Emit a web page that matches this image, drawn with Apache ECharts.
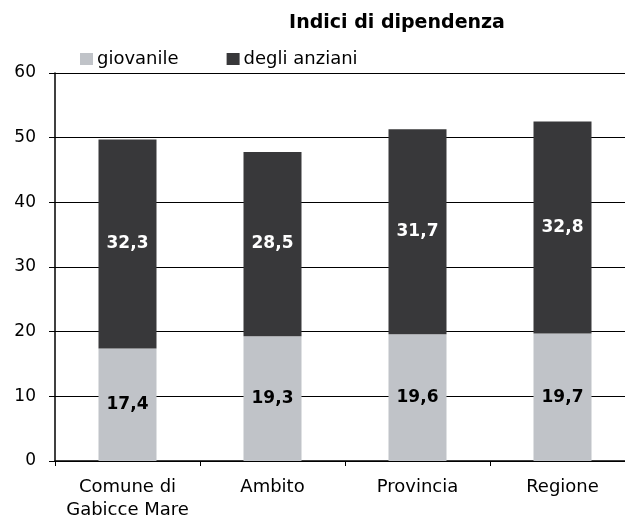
<!DOCTYPE html>
<html>
<head>
<meta charset="utf-8">
<script src="https://cdn.jsdelivr.net/npm/echarts@6/dist/echarts.min.js"></script>
<style>
  html, body { margin: 0; padding: 0; background: #fff; overflow: hidden; }
  /* plot runs a bit past the right edge in the original, so the div is wider than the window */
  #chart { width: 640px; height: 527px; }
</style>
</head>
<body>
<div id="chart"></div>
<script>
// Data
const categories = ['Comune di\nGabicce Mare', 'Ambito', 'Provincia', 'Regione'];
const giovanile = [17.4, 19.3, 19.6, 19.7];
const anziani = [32.3, 28.5, 31.7, 32.8];
const seriesNames = ['giovanile', 'degli anziani'];

const font = 'DejaVu Sans, sans-serif';
const fmt = p => p.value.toFixed(1).replace('.', ',');

const chart = echarts.init(document.getElementById('chart'));
chart.setOption({
    backgroundColor: '#fff',
    animation: false,
    title: {
        text: 'Indici di dipendenza',
        left: 392,
        textAlign: 'center',
        top: 9,
        textStyle: { fontFamily: font, fontSize: 19, fontWeight: 'bold', color: '#000' }
    },
    legend: {
        left: 75,
        top: 45,
        itemWidth: 13,
        itemHeight: 12,
        itemGap: 48,
        icon: 'rect',
        textStyle: { fontFamily: font, fontSize: 18, color: '#000', padding: [0, 0, 0, -1] },
        data: seriesNames
    },
    grid: { left: 55, top: 73, width: 580, bottom: 66 },
    xAxis: {
        type: 'category',
        data: categories,
        axisLine: { lineStyle: { color: '#000', width: 1.5 } },
        axisTick: { show: true, interval: 0, length: 5, lineStyle: { color: '#000' } },
        axisLabel: { interval: 0, fontFamily: font, fontSize: 18, color: '#000', lineHeight: 23, margin: 15 }
    },
    yAxis: {
        type: 'value',
        min: 0,
        max: 60,
        interval: 10,
        axisLine: { show: true, lineStyle: { color: '#000', width: 1.5 } },
        axisTick: { show: true, length: 6, lineStyle: { color: '#000' } },
        splitLine: { lineStyle: { color: '#000', width: 1 } },
        axisLabel: { fontFamily: font, fontSize: 17, color: '#000', margin: 19 }
    },
    series: [
        {
            name: seriesNames[0],
            type: 'bar',
            stack: 'tot',
            barWidth: 58,
            data: giovanile,
            itemStyle: { color: '#c0c3c8' },
            label: {
                show: true, position: 'inside', formatter: fmt,
                fontFamily: font, fontSize: 17, fontWeight: 'bold', color: '#000'
            }
        },
        {
            name: seriesNames[1],
            type: 'bar',
            stack: 'tot',
            barWidth: 58,
            data: anziani,
            itemStyle: { color: '#38383a' },
            label: {
                show: true, position: 'inside', formatter: fmt,
                fontFamily: font, fontSize: 17, fontWeight: 'bold', color: '#fff'
            }
        }
    ]
});
</script>
</body>
</html>
